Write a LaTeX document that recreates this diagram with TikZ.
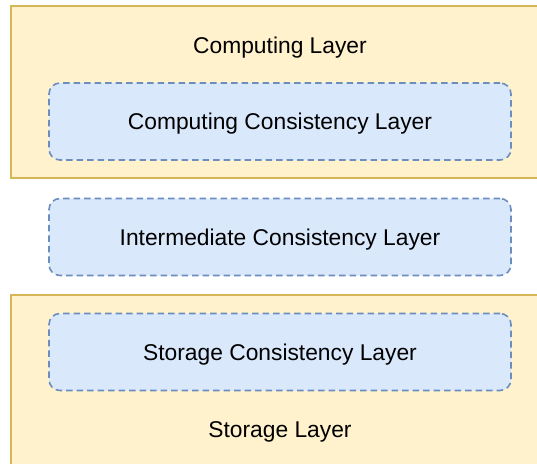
\documentclass[tikz,border=0pt]{standalone}
\usepackage{fontspec}
\setmainfont{Liberation Sans}
\definecolor{layerfill}{HTML}{FFF2CC}
\definecolor{layerdraw}{HTML}{D6B656}
\definecolor{consfill}{HTML}{DAE8FC}
\definecolor{consdraw}{HTML}{6C8EBF}
\tikzset{
  layerbox/.style={rectangle, draw=layerdraw, fill=layerfill, line width=1.6pt, inner sep=0pt},
  consbox/.style={rectangle, rounded corners=11pt, draw=consdraw, fill=consfill, line width=1.6pt,
    dash pattern=on 6.5pt off 4pt, minimum width=462pt, minimum height=77pt, inner sep=0pt,
    font=\fontsize{22.8}{27}\selectfont, text height=16.3pt, text depth=0pt},
  lbl/.style={anchor=base, inner sep=0pt, font=\fontsize{22.8}{27}\selectfont}
}
\begin{document}
\begin{tikzpicture}[x=1pt,y=-1pt]
\useasboundingbox (0,0) rectangle (537,463);
\begin{scope}
\clip (0,0) rectangle (537,463);
\node[layerbox, minimum width=560pt, minimum height=172pt] (computing) at (291,92) {};
\node[layerbox, minimum width=560pt, minimum height=190pt] (storage) at (291,390) {};
\end{scope}
\node[lbl] (computinglbl) at (280,53) {Computing Layer};
\node[consbox] (ccl) at (280,121.5) {Computing Consistency Layer};
\node[consbox] (icl) at (280,237) {Intermediate Consistency Layer};
\node[consbox] (scl) at (280,352) {Storage Consistency Layer};
\node[lbl] (storagelbl) at (280,437.5) {Storage Layer};
\end{tikzpicture}
\end{document}
